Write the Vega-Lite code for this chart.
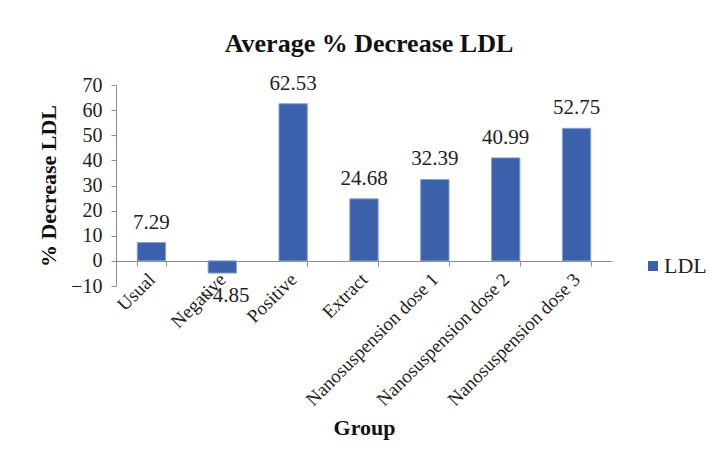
{
  "$schema": "https://vega.github.io/schema/vega-lite/v6.json",
  "autosize": {"type": "none"},
  "width": 496,
  "height": 201,
  "padding": {"left": 116, "top": 85, "right": 104, "bottom": 180},
  "background": "white",
  "title": {
    "text": "Average % Decrease LDL",
    "font": "Liberation Serif",
    "fontSize": 26,
    "fontWeight": "bold",
    "color": "#111111",
    "anchor": "middle",
    "offset": 16,
    "dx": 5
  },
  "data": {
    "values": [
      {"group": "Usual", "ldl": 7.29},
      {"group": "Negative", "ldl": -4.85},
      {"group": "Positive", "ldl": 62.53},
      {"group": "Extract", "ldl": 24.68},
      {"group": "Nanosuspension dose 1", "ldl": 32.39},
      {"group": "Nanosuspension dose 2", "ldl": 40.99},
      {"group": "Nanosuspension dose 3", "ldl": 52.75}
    ]
  },
  "encoding": {
    "x": {
      "field": "group",
      "type": "nominal",
      "sort": null,
      "scale": {"paddingInner": 0.6, "paddingOuter": 0.3},
      "axis": {
        "title": "Group",
        "titleFont": "Liberation Serif",
        "titleFontSize": 22,
        "titleFontWeight": "bold",
        "titleColor": "#111111",
        "titlePadding": 8,
        "offset": -25,
        "tickBand": "extent",
        "tickSize": 5,
        "tickColor": "#8c8c8c",
        "domainColor": "#8c8c8c",
        "labelAngle": -45,
        "labelAlign": "right",
        "labelBaseline": "middle",
        "labelPadding": 10,
        "labelFont": "Liberation Serif",
        "labelFontSize": 19,
        "labelColor": "#222222",
        "labelOverlap": false,
        "labelLimit": 400
      }
    },
    "y": {
      "field": "ldl",
      "type": "quantitative",
      "scale": {"domain": [-10, 70], "nice": false, "zero": false},
      "axis": {
        "title": "% Decrease LDL",
        "titleFont": "Liberation Serif",
        "titleFontSize": 22,
        "titleFontWeight": "bold",
        "titleColor": "#111111",
        "titlePadding": 10,
        "values": [-10, 0, 10, 20, 30, 40, 50, 60, 70],
        "grid": false,
        "tickSize": 5,
        "tickColor": "#8c8c8c",
        "domainColor": "#8c8c8c",
        "labelFont": "Liberation Serif",
        "labelFontSize": 20,
        "labelColor": "#222222",
        "labelPadding": 9
      }
    }
  },
  "layer": [
    {
      "mark": {"type": "bar", "stroke": "#86a2d6", "strokeWidth": 1},
      "encoding": {
        "color": {
          "datum": "LDL",
          "scale": {"range": ["#3c61ab"]},
          "legend": {
            "title": null,
            "orient": "none",
            "legendX": 526,
            "legendY": 170,
            "symbolType": "square",
            "symbolSize": 100,
            "symbolStrokeWidth": 0,
            "labelFont": "Liberation Serif",
            "labelFontSize": 22,
            "labelColor": "#222222",
            "labelOffset": 0
          }
        }
      }
    },
    {
      "transform": [{"filter": "datum.ldl >= 0"}],
      "mark": {"type": "text", "font": "Liberation Serif", "fontSize": 21, "color": "#222222", "baseline": "alphabetic", "dy": -14},
      "encoding": {"text": {"field": "ldl", "type": "quantitative", "format": ".2f"}}
    },
    {
      "transform": [{"filter": "datum.ldl < 0"}],
      "mark": {"type": "text", "font": "Liberation Serif", "fontSize": 21, "color": "#222222", "baseline": "alphabetic", "dy": 29, "dx": 3},
      "encoding": {"text": {"field": "ldl", "type": "quantitative", "format": ".2f"}}
    }
  ],
  "config": {"view": {"stroke": null}}
}
